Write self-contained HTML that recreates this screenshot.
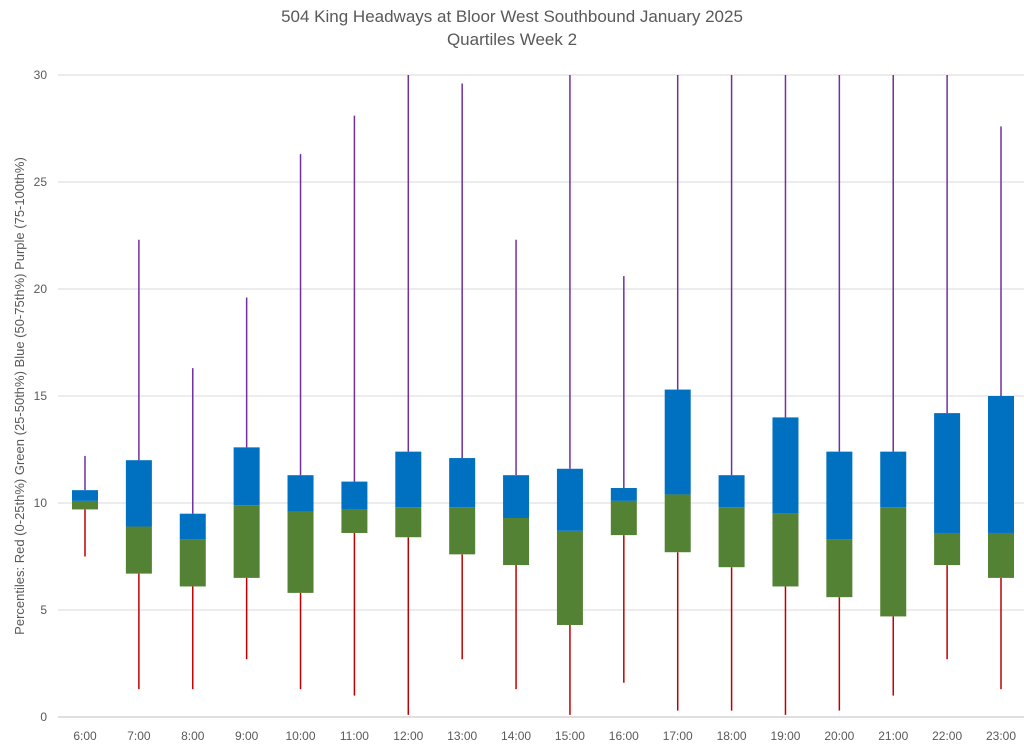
<!DOCTYPE html>
<html><head><meta charset="utf-8"><style>
body{margin:0;background:#fff;font-family:"Liberation Sans",Arial,sans-serif;}
</style></head><body>
<svg id="chart" width="1024" height="747" xmlns="http://www.w3.org/2000/svg"></svg>
<script>
const categories=["6:00","7:00","8:00","9:00","10:00","11:00","12:00","13:00","14:00","15:00","16:00","17:00","18:00","19:00","20:00","21:00","22:00","23:00"];
const minVals=[7.5,1.3,1.3,2.7,1.3,1.0,0.1,2.7,1.3,0.1,1.6,0.3,0.3,0.1,0.3,1.0,2.7,1.3];
const q1Vals=[9.7,6.7,6.1,6.5,5.8,8.6,8.4,7.6,7.1,4.3,8.5,7.7,7.0,6.1,5.6,4.7,7.1,6.5];
const medianVals=[10.1,8.9,8.3,9.9,9.6,9.7,9.8,9.8,9.3,8.7,10.1,10.4,9.8,9.5,8.3,9.8,8.6,8.6];
const q3Vals=[10.6,12.0,9.5,12.6,11.3,11.0,12.4,12.1,11.3,11.6,10.7,15.3,11.3,14.0,12.4,12.4,14.2,15.0];
const maxVals=[12.2,22.3,16.3,19.6,26.3,28.1,35,29.6,22.3,35,20.6,35,35,35,35,35,35,27.6];
const yTicks=[0,5,10,15,20,25,30];

const svg=document.getElementById('chart');
const NS='http://www.w3.org/2000/svg';
const y0=717,y30=75,yMax=30;
const y=v=>y0-(Math.min(v,yMax)/yMax)*(y0-y30);
const x=i=>85+i*(1001-85)/(categories.length-1);
function mk(tag,attrs){const e=document.createElementNS(NS,tag);for(const k in attrs)e.setAttribute(k,attrs[k]);svg.appendChild(e);return e;}

let t=mk('text',{x:512,y:22,'text-anchor':'middle','font-size':17,fill:'#595959'});


t.textContent='504 King Headways at Bloor West Southbound January 2025';
t=mk('text',{x:512,y:45,'text-anchor':'middle','font-size':17,fill:'#595959'});


t.textContent='Quartiles Week 2';

yTicks.forEach(v=>{
  const g=mk('line',{x1:58,x2:1028,y1:y(v),y2:y(v),stroke:v===0?'#bfbfbf':'#d9d9d9','stroke-width':1});
  
  
  const l=mk('text',{x:47,y:y(v)+4,'text-anchor':'end','font-size':12,fill:'#595959'});
  
  
  l.textContent=v;
});

t=mk('text',{x:0,y:0,'text-anchor':'middle','font-size':13,fill:'#595959',transform:'translate(24,396) rotate(-90)'});


t.textContent='Percentiles:  Red (0-25th%)  Green (25-50th%)  Blue (50-75th%)  Purple (75-100th%)';

const bw=26;
categories.forEach((c,i)=>{
  const cx=x(i);
  let e=mk('line',{x1:cx,x2:cx,y1:y(minVals[i]),y2:y(q1Vals[i]),stroke:'#C00000','stroke-width':1.5});
  
  
  e=mk('line',{x1:cx,x2:cx,y1:y(q3Vals[i]),y2:y(maxVals[i]),stroke:'#7030A0','stroke-width':1.5});
  
  
  e=mk('rect',{x:cx-bw/2,width:bw,y:y(medianVals[i]),height:y(q1Vals[i])-y(medianVals[i]),fill:'#548235'});
  
  
  e=mk('rect',{x:cx-bw/2,width:bw,y:y(q3Vals[i]),height:y(medianVals[i])-y(q3Vals[i]),fill:'#0070C0'});
  
  
  e=mk('text',{x:cx,y:740,'text-anchor':'middle','font-size':12,fill:'#595959'});
  
  
  e.textContent=c;
});
</script>
</body></html>
